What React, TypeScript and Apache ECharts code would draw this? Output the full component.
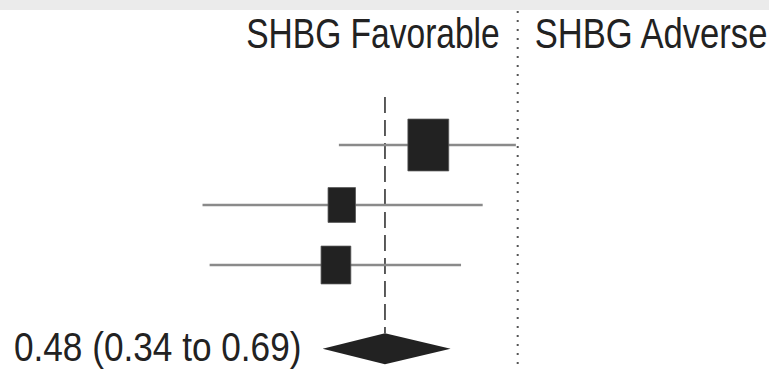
import React, { useEffect, useRef } from "react";
import * as echarts from "echarts";

// Study-level odds ratios with 95% CI and pooled weight (%)
const studyEstimates = [0.61, 0.378, 0.366];
const studyLower = [0.372, 0.175, 0.182];
const studyUpper = [0.99, 0.824, 0.731];
const studyWeights = [50.4, 22.8, 26.8];

// Pooled (random effects) estimate
const pooledEstimate = 0.48;
const pooledLower = 0.34;
const pooledUpper = 0.69;

// Line of no effect and the side captions around it
const nullValue = 1;
const sideLabels = ["SHBG Favorable", "SHBG Adverse"];

const FONT = "'Liberation Sans', Arial, Helvetica, sans-serif";
const INK = "#222222";
const CAPTION_SIZE = 43;
const POOLED_SIZE = 40;
const POOLED_SQUEEZE = 0.88;

function textWidth(text: string, font: string): number {
  const ctx = document.createElement("canvas").getContext("2d");
  if (!ctx) return text.length * 20;
  ctx.font = font;
  return ctx.measureText(text).width;
}

export default function App() {
  const ref = useRef<HTMLDivElement>(null);

  useEffect(() => {
    document.body.style.margin = "0";
    const chart = echarts.init(ref.current!, undefined, { renderer: "svg" });

    const studyRows = studyEstimates.map((est, i) => [
      est,
      i + 1,
      studyLower[i],
      studyUpper[i],
      studyWeights[i],
    ]);
    const pooledRow = studyEstimates.length + 1.395;
    const pooledLabel = `${pooledEstimate.toFixed(2)} (${pooledLower.toFixed(2)} to ${pooledUpper.toFixed(2)})`;
    const captionFont = `${CAPTION_SIZE}px ${FONT}`;
    const pooledFont = `${POOLED_SIZE}px ${FONT}`;
    const pooledLabelWidth = textWidth(pooledLabel, pooledFont) * POOLED_SQUEEZE;

    const option: any = {
      animation: false,
      backgroundColor: "#ffffff",
      grid: { left: 0, right: 0, top: 0, bottom: 0, containLabel: false },
      xAxis: {
        type: "log",
        logBase: 10,
        min: 0.0571,
        max: 4.014,
        show: false,
      },
      yAxis: {
        type: "value",
        inverse: true,
        min: -1.4167,
        max: 4.7667,
        show: false,
      },
      graphic: [
        {
          type: "rect",
          left: 0,
          top: 0,
          shape: { x: 0, y: 0, width: 769, height: 10 },
          style: { fill: "#ebebeb" },
          silent: true,
        },
      ],
      series: [
        {
          // line of no effect + side captions
          type: "custom",
          coordinateSystem: "cartesian2d",
          data: [[nullValue, 0]],
          z: 1,
          renderItem: (params: any, api: any) => {
            const x = api.coord([api.value(0), 0])[0];
            const h = api.getHeight();
            return {
              type: "group",
              children: [
                {
                  type: "line",
                  shape: { x1: x, y1: 11, x2: x, y2: h },
                  style: { stroke: "#555", lineWidth: 2, lineDash: [2, 7] },
                },
                {
                  type: "text",
                  x: x - 18,
                  y: 33,
                  scaleX: 0.78,
                  style: {
                    text: sideLabels[0],
                    x: 0,
                    y: 0,
                    align: "right",
                    verticalAlign: "middle",
                    font: captionFont,
                    fill: INK,
                  },
                },
                {
                  type: "text",
                  x: x + 17,
                  y: 33,
                  scaleX: 0.805,
                  style: {
                    text: sideLabels[1],
                    x: 0,
                    y: 0,
                    align: "left",
                    verticalAlign: "middle",
                    font: captionFont,
                    fill: INK,
                  },
                },
              ],
            };
          },
        },
        {
          // individual studies: CI whisker and weighted square
          type: "custom",
          coordinateSystem: "cartesian2d",
          data: studyRows,
          z: 3,
          renderItem: (params: any, api: any) => {
            const row = api.value(1);
            const c = api.coord([api.value(0), row]);
            const lo = api.coord([api.value(2), row]);
            const hi = api.coord([api.value(3), row]);
            const w = 5.75 * Math.sqrt(api.value(4));
            const hgt = w * 1.27;
            return {
              type: "group",
              children: [
                {
                  type: "line",
                  shape: { x1: lo[0], y1: c[1], x2: hi[0], y2: c[1] },
                  style: { stroke: "#8a8a8a", lineWidth: 2.6 },
                },
                {
                  type: "rect",
                  shape: { x: c[0] - w / 2, y: c[1] - hgt / 2, width: w, height: hgt },
                  style: { fill: INK, stroke: "#555", lineWidth: 0.8 },
                },
              ],
            };
          },
        },
        {
          // pooled estimate: dashed reference line, diamond and label
          type: "custom",
          coordinateSystem: "cartesian2d",
          data: [[pooledEstimate, pooledRow, pooledLower, pooledUpper]],
          z: 2,
          renderItem: (params: any, api: any) => {
            const row = api.value(1);
            const c = api.coord([api.value(0), row]);
            const lo = api.coord([api.value(2), row]);
            const hi = api.coord([api.value(3), row]);
            const top = api.coord([api.value(0), 0.2]);
            const half = 15.5;
            return {
              type: "group",
              children: [
                {
                  type: "line",
                  shape: { x1: c[0], y1: top[1], x2: c[0], y2: c[1] - half },
                  style: { stroke: "#333", lineWidth: 1.6, lineDash: [16, 7] },
                },
                {
                  type: "polygon",
                  shape: {
                    points: [
                      [lo[0], c[1]],
                      [c[0], c[1] - half],
                      [hi[0], c[1]],
                      [c[0], c[1] + half],
                    ],
                  },
                  style: { fill: INK },
                },
                {
                  type: "text",
                  x: lo[0] - 21 - pooledLabelWidth,
                  y: c[1] - 1,
                  scaleX: POOLED_SQUEEZE,
                  style: {
                    text: pooledLabel,
                    x: 0,
                    y: 0,
                    align: "left",
                    verticalAlign: "middle",
                    font: pooledFont,
                    fill: INK,
                  },
                },
              ],
            };
          },
        },
      ],
    };

    chart.setOption(option);
    return () => chart.dispose();
  }, []);

  return <div ref={ref} style={{ width: 769, height: 371 }} />;
}
